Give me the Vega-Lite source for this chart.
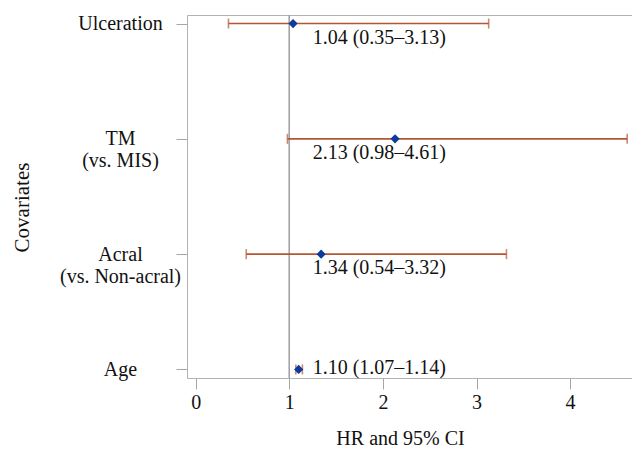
{
  "$schema": "https://vega.github.io/schema/vega-lite/v6.json",
  "width": 446,
  "height": 363,
  "autosize": {"type": "none"},
  "padding": {"left": 187, "top": 15, "right": 0, "bottom": 71},
  "background": "white",
  "config": {
    "view": {"stroke": "#b3b3b3", "strokeWidth": 1},
    "font": "Liberation Serif",
    "text": {"font": "Liberation Serif"}
  },
  "data": {
    "values": [
      {"covariate": "Ulceration", "hr": 1.04, "lower": 0.35, "upper": 3.13, "text": "1.04 (0.35–3.13)"},
      {"covariate": "TM (vs. MIS)", "hr": 2.13, "lower": 0.98, "upper": 4.61, "text": "2.13 (0.98–4.61)"},
      {"covariate": "Acral (vs. Non-acral)", "hr": 1.34, "lower": 0.54, "upper": 3.32, "text": "1.34 (0.54–3.32)"},
      {"covariate": "Age", "hr": 1.10, "lower": 1.07, "upper": 1.14, "text": "1.10 (1.07–1.14)"}
    ]
  },
  "layer": [
    {
      "mark": {"type": "rule", "color": "#a3a3a3", "strokeWidth": 1},
      "encoding": {
        "x": {
          "datum": 1,
          "type": "quantitative",
          "scale": {"domain": [-0.093, 4.672], "nice": false, "zero": false},
          "axis": {
            "title": "HR and 95% CI",
            "values": [0, 1, 2, 3, 4],
            "format": "d",
            "grid": false,
            "domain": false,
            "tickSize": 11,
            "tickColor": "#a6a6a6",
            "labelFont": "Liberation Serif",
            "labelFontSize": 20,
            "labelColor": "#111111",
            "labelBaseline": "alphabetic",
            "labelPadding": 19,
            "labelFlush": false,
            "labelOverlap": false,
            "titleFont": "Liberation Serif",
            "titleFontSize": 20,
            "titleFontWeight": "normal",
            "titleColor": "#111111",
            "titleBaseline": "alphabetic",
            "titleX": 213,
            "titleY": 66
          }
        }
      }
    },
    {
      "mark": {"type": "rule", "color": "#b55633", "strokeWidth": 1.6},
      "encoding": {
        "x": {"field": "lower", "type": "quantitative", "title": "HR and 95% CI"},
        "x2": {"field": "upper"},
        "y": {
          "field": "covariate",
          "type": "nominal",
          "sort": null,
          "scale": {"type": "point", "padding": 0.074},
          "axis": {
            "title": "Covariates",
            "grid": false,
            "domain": false,
            "tickSize": 11,
            "tickColor": "#a6a6a6",
            "labelExpr": "indexof(datum.label, ' (') > 0 ? [substring(datum.label, 0, indexof(datum.label, ' (')), substring(datum.label, indexof(datum.label, ' (') + 1)] : datum.label",
            "labelAlign": "center",
            "labelBaseline": "middle",
            "labelPadding": 56,
            "labelLineHeight": 22,
            "labelFont": "Liberation Serif",
            "labelFontSize": 20,
            "labelColor": "#111111",
            "labelOverlap": false,
            "titleFont": "Liberation Serif",
            "titleFontSize": 21,
            "titleFontWeight": "normal",
            "titleColor": "#111111",
            "titleBaseline": "alphabetic",
            "titleAngle": -90,
            "titleX": -158.5,
            "titleY": 192
          }
        }
      }
    },
    {
      "mark": {"type": "tick", "color": "#b55633", "thickness": 1.6, "size": 10},
      "encoding": {
        "x": {"field": "lower", "type": "quantitative", "title": "HR and 95% CI"},
        "y": {"field": "covariate", "type": "nominal", "sort": null, "title": "Covariates"}
      }
    },
    {
      "mark": {"type": "tick", "color": "#b55633", "thickness": 1.6, "size": 10},
      "encoding": {
        "x": {"field": "upper", "type": "quantitative", "title": "HR and 95% CI"},
        "y": {"field": "covariate", "type": "nominal", "sort": null, "title": "Covariates"}
      }
    },
    {
      "mark": {"type": "point", "shape": "diamond", "filled": true, "color": "#0d3a9c", "size": 85, "opacity": 1},
      "encoding": {
        "x": {"field": "hr", "type": "quantitative", "title": "HR and 95% CI"},
        "y": {"field": "covariate", "type": "nominal", "sort": null, "title": "Covariates"}
      }
    },
    {
      "transform": [{"filter": "datum.covariate !== 'Age'"}],
      "mark": {"type": "text", "align": "left", "baseline": "alphabetic", "dy": 20, "fontSize": 20, "font": "Liberation Serif", "color": "#111111"},
      "encoding": {
        "x": {"datum": 1.25, "type": "quantitative"},
        "y": {"field": "covariate", "type": "nominal", "sort": null, "title": "Covariates"},
        "text": {"field": "text"}
      }
    },
    {
      "transform": [{"filter": "datum.covariate === 'Age'"}],
      "mark": {"type": "text", "align": "left", "baseline": "alphabetic", "dy": 5, "fontSize": 20, "font": "Liberation Serif", "color": "#111111"},
      "encoding": {
        "x": {"datum": 1.25, "type": "quantitative"},
        "y": {"field": "covariate", "type": "nominal", "sort": null, "title": "Covariates"},
        "text": {"field": "text"}
      }
    }
  ]
}
